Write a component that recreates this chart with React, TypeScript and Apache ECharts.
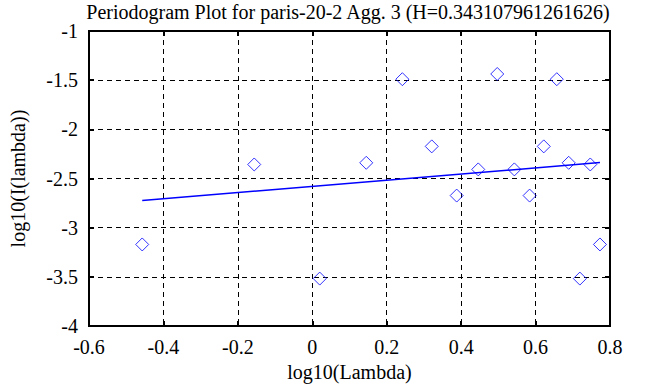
import React, { useEffect, useRef } from "react";
import * as echarts from "echarts";

const titleText = "Periodogram Plot for paris-20-2 Agg. 3 (H=0.343107961261626)";
const xName = "log10(Lambda)";
const yName = "log10(I(lambda))";

// log10(lambda) values
const logLambda = [
  -0.457, -0.156, 0.02, 0.145, 0.242, 0.321, 0.388, 0.446, 0.497,
  0.543, 0.584, 0.622, 0.657, 0.689, 0.719, 0.747, 0.773,
];
// log10(I(lambda)) values
const logI = [
  -3.17, -2.357, -3.517, -2.34, -1.49, -2.173, -2.673, -2.407, -1.437,
  -2.407, -2.673, -2.173, -1.49, -2.34, -3.517, -2.357, -3.17,
];
// fitted line end points
const fitX = [-0.457, 0.773];
const fitY = [-2.723, -2.337];

const FONT = "'Liberation Serif', 'DejaVu Serif', serif";

export default function App() {
  const ref = useRef<HTMLDivElement>(null);
  useEffect(() => {
    if (!ref.current) return;
    const chart = echarts.init(ref.current, undefined, { renderer: "svg" });
    const points = logLambda.map((x, i) => [x, logI[i]]);
    const fit = fitX.map((x, i) => [x, fitY[i]]);
    const labelStyle = { color: "#000", fontFamily: FONT, fontSize: 20 };
    const tick = { show: true, inside: true, length: 5, lineStyle: { color: "#000", width: 2 } };
    chart.setOption({
      animation: false,
      backgroundColor: "#fff",
      title: {
        text: titleText,
        left: 343,
        textAlign: "center",
        top: -3,
        textStyle: { color: "#000", fontFamily: FONT, fontSize: 20, fontWeight: "normal" },
      },
      grid: {
        left: 82,
        right: 43,
        top: 31,
        bottom: 56,
        show: true,
        borderColor: "#000",
        borderWidth: 2,
        backgroundColor: "transparent",
      },
      xAxis: [
        {
          type: "value",
          min: -0.6,
          max: 0.8,
          interval: 0.2,
          position: "bottom",
          name: xName,
          nameLocation: "middle",
          nameGap: 31,
          nameTextStyle: labelStyle,
          axisLine: { show: true, onZero: false, lineStyle: { color: "#000", width: 2 } },
          axisTick: tick,
          axisLabel: { ...labelStyle, margin: 11 },
          splitLine: { show: true, lineStyle: { color: "#000", width: 1, type: [5, 4] } },
        },
        {
          type: "value",
          min: -0.6,
          max: 0.8,
          interval: 0.2,
          position: "top",
          axisLine: { show: false, onZero: false },
          axisTick: tick,
          axisLabel: { show: false },
          splitLine: { show: false },
        },
      ],
      yAxis: [
        {
          type: "value",
          min: -4,
          max: -1,
          interval: 0.5,
          position: "left",
          name: yName,
          nameLocation: "middle",
          nameGap: 61,
          nameTextStyle: labelStyle,
          axisLine: { show: true, onZero: false, lineStyle: { color: "#000", width: 2 } },
          axisTick: tick,
          axisLabel: { ...labelStyle, margin: 11 },
          splitLine: { show: true, lineStyle: { color: "#000", width: 1, type: [5, 4] } },
        },
        {
          type: "value",
          min: -4,
          max: -1,
          interval: 0.5,
          position: "right",
          axisLine: { show: false, onZero: false },
          axisTick: tick,
          axisLabel: { show: false },
          splitLine: { show: false },
        },
      ],
      series: [
        {
          type: "line",
          data: fit,
          xAxisIndex: 0,
          yAxisIndex: 0,
          showSymbol: false,
          symbol: "none",
          lineStyle: { color: "#0000ff", width: 1.5 },
          z: 3,
        },
        {
          type: "scatter",
          data: points,
          xAxisIndex: 0,
          yAxisIndex: 0,
          symbol: "diamond",
          symbolSize: 13,
          itemStyle: { color: "rgba(0,0,0,0)", borderColor: "#0000ff", borderWidth: 1 },
          z: 4,
        },
      ],
    });
    return () => chart.dispose();
  }, []);
  return <div ref={ref} style={{ width: 653, height: 387, position: "absolute", left: 0, top: 0 }} />;
}
